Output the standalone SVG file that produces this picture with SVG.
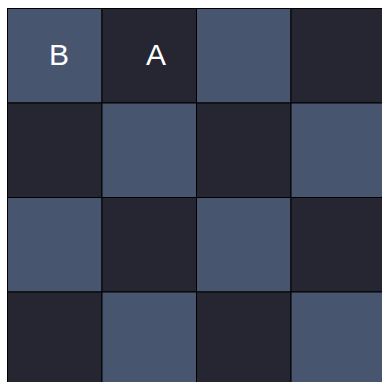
<svg xmlns="http://www.w3.org/2000/svg" width="382" height="382" viewBox="0 0 382 382">
<style>
.l{fill:#47556f;stroke:#000;stroke-width:1}
.d{fill:#262633;stroke:#000;stroke-width:1}
.t{fill:#fff;font-family:"Liberation Sans",Arial,sans-serif;font-size:30px;text-anchor:middle}
</style>
<rect width="382" height="382" fill="#fff"/>
<g id="r0">
<rect class="l" x="7.5" y="8.5" width="94.5" height="94.5"/>
<rect class="d" x="102" y="8.5" width="94.5" height="94.5"/>
<rect class="l" x="196.5" y="8.5" width="94.5" height="94.5"/>
<rect class="d" x="291" y="8.5" width="94.5" height="94.5"/>
</g>
<g id="r1">
<rect class="d" x="7.5" y="103" width="94.5" height="94.5"/>
<rect class="l" x="102" y="103" width="94.5" height="94.5"/>
<rect class="d" x="196.5" y="103" width="94.5" height="94.5"/>
<rect class="l" x="291" y="103" width="94.5" height="94.5"/>
</g>
<g id="r2">
<rect class="l" x="7.5" y="197.5" width="94.5" height="94.5"/>
<rect class="d" x="102" y="197.5" width="94.5" height="94.5"/>
<rect class="l" x="196.5" y="197.5" width="94.5" height="94.5"/>
<rect class="d" x="291" y="197.5" width="94.5" height="94.5"/>
</g>
<g id="r3">
<rect class="d" x="7.5" y="292" width="94.5" height="94.5"/>
<rect class="l" x="102" y="292" width="94.5" height="94.5"/>
<rect class="d" x="196.5" y="292" width="94.5" height="94.5"/>
<rect class="l" x="291" y="292" width="94.5" height="94.5"/>
</g>
<g id="labelB"><text class="t" x="59" y="65">B</text></g>
<g id="labelA"><text class="t" x="156" y="65">A</text></g>
</svg>
